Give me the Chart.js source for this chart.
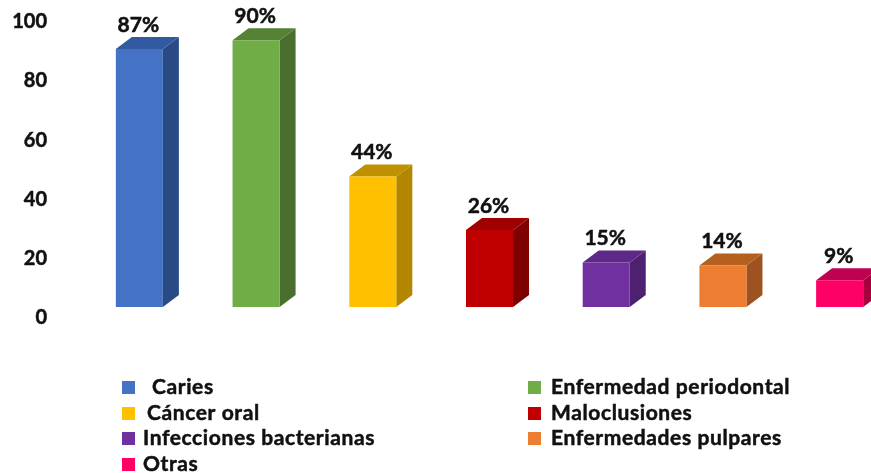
<!DOCTYPE html>
<html lang="es">
<head>
<meta charset="utf-8">
<title>Enfermedades bucodentales</title>
<script src="https://cdn.jsdelivr.net/npm/chart.js@4/dist/chart.umd.min.js"></script>
<style>
  html, body { margin: 0; padding: 0; background: #fff; overflow: hidden; width: 871px; height: 473px; }
  canvas { display: block; }
</style>
</head>
<body>
<canvas id="grafico" width="898" height="473"></canvas>
<script>
// Datos
const categorias = ['Caries', 'Enfermedad periodontal', 'Cáncer oral', 'Maloclusiones', 'Infecciones bacterianas', 'Enfermedades pulpares', 'Otras'];
const valores = [87, 90, 44, 26, 15, 14, 9];
const marcasY = [0, 20, 40, 60, 80, 100];

// Colores: frente, lateral y tapa de cada barra
const colorFrente = ['#4472C4', '#70AD47', '#FFC000', '#C00000', '#7030A0', '#ED7D31', '#FF0066'];
const colorLado = ['#2A4A85', '#4A6E2D', '#B38600', '#7F0000', '#4E2170', '#9E5220', '#A8003F'];
const colorTapa = ['#325AA0', '#558235', '#BF9000', '#A00000', '#5E2886', '#B5601F', '#C00050'];

// Leyenda: x del cuadro, x del texto e y de cada categoria
const leyendaOrden = [[122, 152, 387], [528, 551, 387], [122, 147, 413], [528, 551, 413], [122, 143, 438], [528, 551, 438], [122, 143, 464]];

const fondoX = 16, fondoY = 12;

// Texto con un trazo fino para que quede mas grueso
function textoGrueso(ctx, texto, x, y) {
  ctx.fillStyle = '#111';
  ctx.strokeStyle = '#111';
  ctx.lineWidth = 0.5;
  ctx.fillText(texto, x, y);
  ctx.strokeText(texto, x, y);
}

// Lateral y tapa para el efecto 3D
const barras3D = {
  id: 'barras3D',
  beforeDatasetsDraw(chart) {
    const ctx = chart.ctx;
    chart.getDatasetMeta(0).data.forEach((bar, i) => {
      const izq = bar.x - bar.width / 2, der = bar.x + bar.width / 2;
      ctx.fillStyle = colorLado[i];
      ctx.beginPath();
      ctx.moveTo(der, bar.y);
      ctx.lineTo(der + fondoX, bar.y - fondoY);
      ctx.lineTo(der + fondoX, bar.base - fondoY);
      ctx.lineTo(der, bar.base);
      ctx.closePath();
      ctx.fill();
      ctx.fillStyle = colorTapa[i];
      ctx.beginPath();
      ctx.moveTo(izq, bar.y);
      ctx.lineTo(izq + fondoX, bar.y - fondoY);
      ctx.lineTo(der + fondoX, bar.y - fondoY);
      ctx.lineTo(der, bar.y);
      ctx.closePath();
      ctx.fill();
    });
  },
  afterDatasetsDraw(chart) {
    const ctx = chart.ctx;
    ctx.save();
    ctx.font = 'bold 21px Lato';
    ctx.textAlign = 'center';
    ctx.textBaseline = 'middle';
    chart.getDatasetMeta(0).data.forEach((bar, i) => {
      textoGrueso(ctx, valores[i] + '%', bar.x - 1, bar.y - fondoY - 12);
    });
    // Leyenda
    ctx.textAlign = 'left';
    ctx.letterSpacing = '0.6px';
    categorias.forEach((nombre, i) => {
      const [xCuadro, xTexto, y] = leyendaOrden[i];
      ctx.fillStyle = colorFrente[i];
      ctx.fillRect(xCuadro, y - 6, 13, 13);
      textoGrueso(ctx, nombre, xTexto, y);
    });
    ctx.restore();
  }
};

new Chart(document.getElementById('grafico').getContext('2d'), {
  type: 'bar',
  data: {
    labels: categorias,
    datasets: [{
      data: valores,
      backgroundColor: colorFrente,
      borderWidth: 0,
      categoryPercentage: 0.403,
      barPercentage: 1
    }]
  },
  options: {
    responsive: false,
    animation: false,
    layout: { padding: { top: 10.5, bottom: 166, left: 0, right: 0 } },
    plugins: { legend: { display: false }, tooltip: { enabled: false } },
    scales: {
      x: { display: false },
      y: {
        min: 0,
        max: 100,
        grid: { display: false, drawTicks: false },
        border: { display: false },
        afterFit(escala) {
          escala.width = 81;
          escala.paddingTop = 0;
          escala.paddingBottom = 0;
        },
        afterBuildTicks(escala) {
          escala.ticks = marcasY.map(v => ({ value: v }));
        },
        ticks: {
          padding: 34,
          labelOffset: 11,
          color: '#111',
          textStrokeColor: '#111',
          textStrokeWidth: 0.5,
          font: { family: 'Lato', size: 20, weight: 'bold' }
        }
      }
    }
  },
  plugins: [barras3D]
});
</script>
</body>
</html>
